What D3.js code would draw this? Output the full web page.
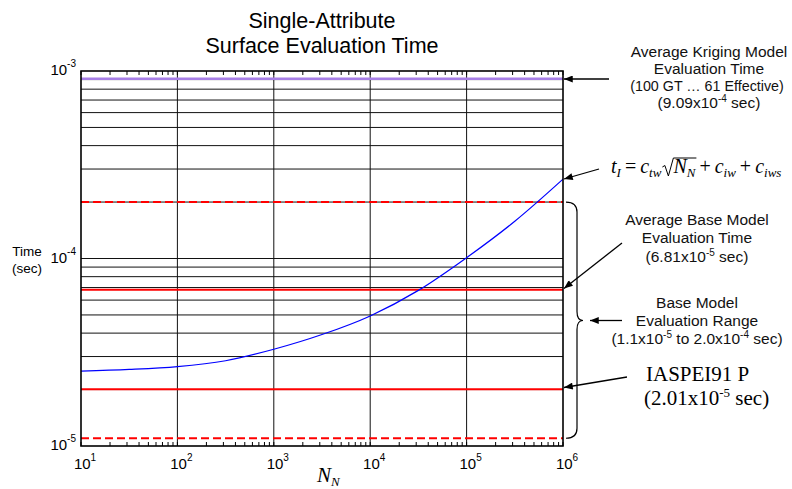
<!DOCTYPE html>
<html>
<head>
<meta charset="utf-8">
<script src="https://cdn.jsdelivr.net/npm/d3@7"></script>
<style>
body { margin: 0; background: #fff; }
</style>
</head>
<body>
<div id="chart"></div>
<script>
// values
const nnValues   = [10, 31.6, 100, 316, 1000, 3162, 10000, 31623, 100000, 316228, 1000000];
const timeValues = [2.51e-5, 2.56e-5, 2.65e-5, 2.85e-5, 3.28e-5, 3.93e-5, 4.94e-5, 6.76e-5, 1.01e-4, 1.58e-4, 2.65e-4];
const solidRefs  = [6.81e-5, 2.01e-5];   // avg base model, IASPEI91 P
const dashedRefs = [2.0e-4, 1.1e-5];     // base model range
const krigingTime = 9.09e-4;
const xTickExps = [1, 2, 3, 4, 5, 6];
const yTickExps = [-3, -4, -5];

const width = 792;
const height = 489;
const pLeft = 81, pRight = 563, pTop = 71, pBottom = 446;
const sans = "Arial, 'Liberation Sans', sans-serif";
const serif = "'Times New Roman', 'Liberation Serif', serif";

const svg = d3.select('#chart')
              .append("svg")
              .attr('width', width)
              .attr('height', height);

let x = d3.scaleLog().domain([10, 1e6]).range([pLeft, pRight]);
let y = d3.scaleLog().domain([1e-5, 1e-3]).range([pBottom, pTop]);

svg.append("defs").append("marker")
    .attr("id", "head")
    .attr("markerUnits", "userSpaceOnUse")
    .attr("viewBox", "0 0 10 8")
    .attr("refX", 10).attr("refY", 4)
    .attr("markerWidth", 10).attr("markerHeight", 7)
    .attr("orient", "auto")
  .append("path")
    .attr("d", "M0,0 L10,4 L0,8 Z")
    .attr("fill", "#000");

// horizontal grid (every minor decade step)
let yGrid = y.ticks().filter(d => d > 1.0001e-5 && d < 0.9999e-3);
svg.append("g")
    .attr("stroke", "#111")
    .attr("stroke-width", 1)
  .selectAll("line")
  .data(yGrid)
  .join("line")
    .attr("x1", pLeft).attr("x2", pRight)
    .attr("y1", d => y(d)).attr("y2", d => y(d));

// vertical grid at decades
svg.append("g")
    .attr("stroke", "#111")
    .attr("stroke-width", 1)
  .selectAll("line")
  .data(xTickExps.slice(1, -1))
  .join("line")
    .attr("x1", d => x(Math.pow(10, d))).attr("x2", d => x(Math.pow(10, d)))
    .attr("y1", pTop).attr("y2", pBottom);

// minor x ticks, top and bottom
let xMinor = x.ticks();
svg.append("g")
    .attr("stroke", "#000")
  .selectAll("line")
  .data(xMinor.concat(xMinor))
  .join("line")
    .attr("x1", d => x(d)).attr("x2", d => x(d))
    .attr("y1", (d, i) => i < xMinor.length ? pBottom : pTop)
    .attr("y2", (d, i) => i < xMinor.length ? pBottom - 4 : pTop + 4);

// reference levels
svg.append("line")
    .attr("x1", pLeft).attr("x2", pRight)
    .attr("y1", y(krigingTime)).attr("y2", y(krigingTime))
    .attr("stroke", "#a77fe6")
    .attr("stroke-width", 2.5);

svg.append("g")
  .selectAll("line")
  .data(solidRefs)
  .join("line")
    .attr("x1", pLeft).attr("x2", pRight)
    .attr("y1", d => y(d)).attr("y2", d => y(d))
    .attr("stroke", "#ff0000")
    .attr("stroke-width", 2);

svg.append("g")
  .selectAll("line")
  .data(dashedRefs)
  .join("line")
    .attr("x1", pLeft).attr("x2", pRight)
    .attr("y1", d => y(d)).attr("y2", d => y(d))
    .attr("stroke", "#ff0000")
    .attr("stroke-width", 2)
    .attr("stroke-dasharray", "8,4");

// evaluation time curve
let line = d3.line()
    .x((d, i) => x(nnValues[i]))
    .y(d => y(d))
    .curve(d3.curveMonotoneX);

svg.append("path")
    .attr("d", line(timeValues))
    .attr("fill", "none")
    .attr("stroke", "#0000ff")
    .attr("stroke-width", 1.2);

// frame
svg.append("rect")
    .attr("x", pLeft).attr("y", pTop)
    .attr("width", pRight - pLeft).attr("height", pBottom - pTop)
    .attr("fill", "none")
    .attr("stroke", "#000")
    .attr("stroke-width", 1.6);

// tick labels
let xl = svg.append("g")
    .attr("font-family", sans)
  .selectAll("text")
  .data(xTickExps)
  .join("text")
    .attr("x", d => x(Math.pow(10, d)) + 4)
    .attr("y", pBottom + 23)
    .attr("text-anchor", "middle")
    .attr("font-size", 15);
xl.append("tspan").text("10");
xl.append("tspan").attr("font-size", 10).attr("dy", -8).text(d => d);

let yl = svg.append("g")
    .attr("font-family", sans)
  .selectAll("text")
  .data(yTickExps)
  .join("text")
    .attr("x", 76)
    .attr("y", d => y(Math.pow(10, d)) + 4)
    .attr("text-anchor", "end")
    .attr("font-size", 15);
yl.append("tspan").text("10");
yl.append("tspan").attr("font-size", 10).attr("dy", -8).text(d => d);

// title and axis names
svg.append("g")
    .attr("font-family", sans)
    .attr("font-size", 21.5)
    .attr("text-anchor", "middle")
  .selectAll("text")
  .data(["Single-Attribute", "Surface Evaluation Time"])
  .join("text")
    .attr("x", (pLeft + pRight) / 2)
    .attr("y", (d, i) => 28 + i * 25)
    .text(d => d);

svg.append("g")
    .attr("font-family", sans)
    .attr("font-size", 13.5)
    .attr("text-anchor", "middle")
  .selectAll("text")
  .data(["Time", "(sec)"])
  .join("text")
    .attr("x", 27)
    .attr("y", (d, i) => 256 + i * 16.5)
    .text(d => d);

let xlab = svg.append("text")
    .attr("x", 317).attr("y", 482)
    .attr("font-family", serif)
    .attr("font-style", "italic")
    .attr("font-size", 21);
xlab.append("tspan").text("N");
xlab.append("tspan").attr("font-size", 13).attr("dy", 4).text("N");

// annotations
function block(lines, cx, y0, step) {
  let t = svg.append("g")
      .attr("font-family", sans)
      .attr("font-size", 15.5)
      .attr("fill", "#111")
      .attr("text-anchor", "middle")
    .selectAll("text")
    .data(lines)
    .join("text")
      .attr("x", cx)
      .attr("y", (d, i) => y0 + i * step);
  t.each(function(d) {
    let el = d3.select(this);
    d.forEach(function(p, k) {
      let s = el.append("tspan").text(p);
      if (k % 2 == 1) s.attr("font-size", 10).attr("dy", -6);
      else if (k > 0) s.attr("dy", 6);
    });
  });
  return t;
}

let kb = block([["Average Kriging Model"], ["Evaluation Time"], ["(100 GT \u2026 61 Effective)"],
       ["(9.09x10", "-4", " sec)"]], 709, 57, 17);
kb.filter((d, i) => i == 2)
    .attr("x", 707)
    .attr("font-size", 14.3);
block([["Average Base Model"], ["Evaluation Time"], ["(6.81x10", "-5", " sec)"]], 697, 225, 18.3);
block([["Base Model"], ["Evaluation Range"],
       ["(1.1x10", "-5", " to 2.0x10", "-4", " sec)"]], 697, 307.5, 18.3);

svg.append("text")
    .attr("x", 646).attr("y", 381)
    .attr("font-family", serif)
    .attr("font-size", 21)
    .text("IASPEI91 P");
let ip = svg.append("text")
    .attr("x", 644).attr("y", 405)
    .attr("font-family", serif)
    .attr("font-size", 21);
ip.append("tspan").text("(2.01x10");
ip.append("tspan").attr("font-size", 13).attr("dy", -8).text("-5");
ip.append("tspan").attr("dy", 8).text(" sec)");

// equation t_I = c_tw sqrt(N_N) + c_iw + c_iws
let eq = svg.append("g").attr("font-family", serif);
let ex = 611, ey = 173;
function piece(str, size, dy, italic) {
  let t = eq.append("text")
      .attr("x", ex).attr("y", ey + dy)
      .attr("font-size", size)
      .attr("font-style", italic ? "italic" : "normal")
      .text(str);
  ex += t.node().getComputedTextLength();
}
piece("t", 20, 0, true);
piece("I", 13, 4, true);
ex += 4; piece("=", 20, 0, false); ex += 4;
piece("c", 20, 0, true);
piece("tw", 13, 4, true);
ex += 1;
let rx = ex;
ex += 11;
piece("N", 20, 0, true);
piece("N", 13, 4, true);
eq.append("path")
    .attr("d", "M" + rx + "," + (ey - 6) + " L" + (rx + 2.5) + "," + (ey - 7.5) +
               " L" + (rx + 6) + "," + (ey + 3) + " L" + (rx + 11) + "," + (ey - 15) +
               " L" + (ex + 1) + "," + (ey - 15))
    .attr("fill", "none")
    .attr("stroke", "#000")
    .attr("stroke-width", 1);
ex += 4; piece("+", 20, 0, false); ex += 4;
piece("c", 20, 0, true);
piece("iw", 13, 4, true);
ex += 4; piece("+", 20, 0, false); ex += 4;
piece("c", 20, 0, true);
piece("iws", 13, 4, true);

// arrows
let arrows = [[609, 79, 564, 79], [599, 169, 564, 179], [622, 243, 564, 288.5],
              [622, 320.5, 590, 320.5], [627, 377, 564, 387.5]];
svg.append("g")
  .selectAll("line")
  .data(arrows)
  .join("line")
    .attr("x1", d => d[0]).attr("y1", d => d[1])
    .attr("x2", d => d[2]).attr("y2", d => d[3])
    .attr("stroke", "#000")
    .attr("stroke-width", 1.3)
    .attr("marker-end", "url(#head)");

// brace around base model range
let bTop = y(dashedRefs[0]), bBot = y(dashedRefs[1]), bMid = 320.5;
svg.append("path")
    .attr("d", "M566," + bTop + " Q577," + bTop + " 577," + (bTop + 10) +
               " L577," + (bMid - 9) + " Q577," + bMid + " 583," + bMid +
               " Q577," + bMid + " 577," + (bMid + 9) +
               " L577," + (bBot - 10) + " Q577," + bBot + " 566," + bBot)
    .attr("fill", "none")
    .attr("stroke", "#000")
    .attr("stroke-width", 1.2);
</script>
</body>
</html>
